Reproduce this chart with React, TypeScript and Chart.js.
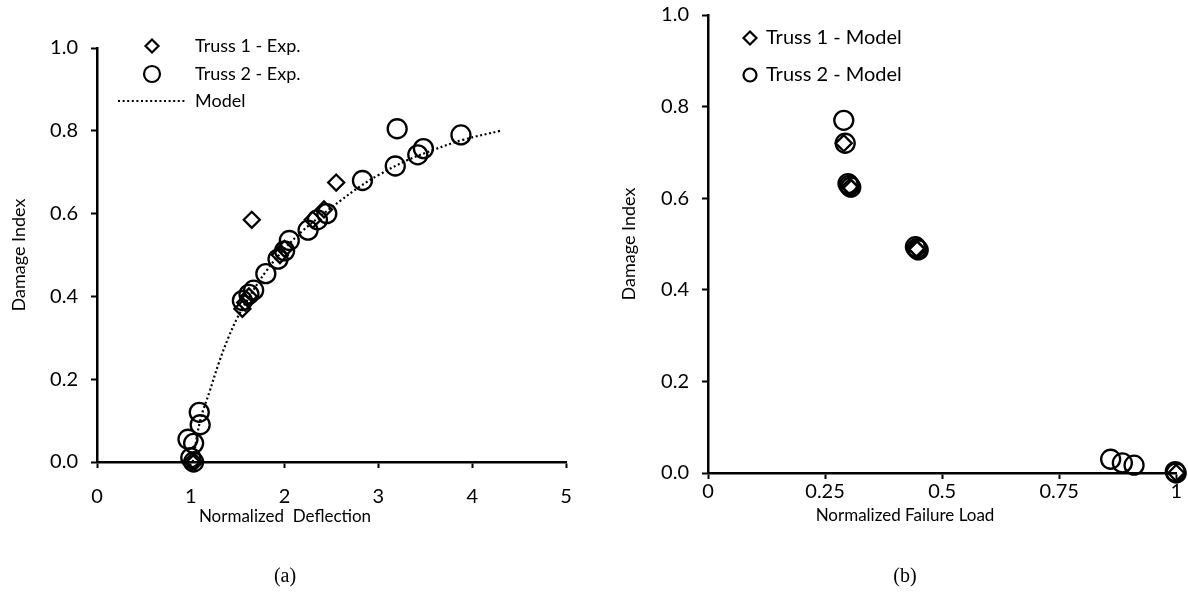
import { useEffect, useRef } from 'react';
import { Chart, registerables } from 'chart.js';

Chart.register(...registerables);

const FONT = 'Lato, "Noto Sans", sans-serif';
const INK = '#000';

// ---- (a) damage index vs. normalized deflection ----
const deflectionTicks = [0, 1, 2, 3, 4, 5];
const damageTicks = [0, 0.2, 0.4, 0.6, 0.8, 1.0];
const damageTickLabels = ['0.0', '0.2', '0.4', '0.6', '0.8', '1.0'];

const truss1ExpDeflection = [1.01, 1.04, 1.55, 1.58, 1.62, 1.65, 1.95, 2.0, 2.3, 2.42, 2.55];
const truss1ExpDamage = [0.0, 0.0, 0.37, 0.385, 0.4, 0.585, 0.5, 0.515, 0.585, 0.61, 0.675];

const truss2ExpDeflection = [0.97, 1.03, 1.0, 1.03, 1.09, 1.1, 1.55, 1.62, 1.67, 1.8, 1.93, 2.0, 2.05, 2.25, 2.35, 2.45, 2.83, 3.18, 3.2, 3.42, 3.48, 3.88];
const truss2ExpDamage = [0.055, 0.045, 0.01, 0.0, 0.12, 0.09, 0.39, 0.405, 0.415, 0.455, 0.49, 0.51, 0.535, 0.56, 0.585, 0.6, 0.68, 0.715, 0.805, 0.742, 0.757, 0.79];

const modelDeflection = [1.02, 1.1, 1.2, 1.3, 1.4, 1.5, 1.6, 1.8, 2.0, 2.2, 2.4, 2.6, 2.8, 3.0, 3.3, 3.6, 3.9, 4.3];
const modelDamage = [0.0, 0.1, 0.17, 0.24, 0.3, 0.35, 0.39, 0.46, 0.515, 0.56, 0.597, 0.632, 0.665, 0.693, 0.728, 0.755, 0.778, 0.8];

// ---- (b) damage index vs. normalized failure load ----
const loadTicks = [0, 0.25, 0.5, 0.75, 1];

const truss1ModelLoad = [0.29, 0.303, 0.306, 0.445, 0.447, 1.0];
const truss1ModelDamage = [0.72, 0.625, 0.622, 0.49, 0.488, 0.0];

const truss2ModelLoad = [0.29, 0.293, 0.299, 0.302, 0.305, 0.443, 0.446, 0.449, 0.86, 0.885, 0.91, 0.998, 1.0];
const truss2ModelDamage = [0.77, 0.72, 0.632, 0.628, 0.624, 0.494, 0.49, 0.487, 0.03, 0.022, 0.017, 0.003, 0.0];

const zip = (xs: number[], ys: number[]) => xs.map((x, i) => ({ x, y: ys[i] }));

// Legend rows and x-axis caption painted straight onto the canvas
const panelDecor = {
  id: 'panelDecor',
  afterDraw(chart: any, _args: any, opts: any) {
    const { ctx } = chart;
    ctx.save();
    ctx.fillStyle = INK;
    ctx.strokeStyle = '#000';
    ctx.textBaseline = 'middle';
    ctx.font = `${opts.fontSize}px ${FONT}`;
    opts.rows.forEach((row: any) => {
      const ds = chart.data.datasets[row.dataset];
      ctx.lineWidth = row.lineWidth ?? 2.2;
      if (row.kind === 'line') {
        ctx.setLineDash(ds.borderDash || []);
        ctx.beginPath();
        ctx.moveTo(row.x0, row.y);
        ctx.lineTo(row.x1, row.y);
        ctx.stroke();
        ctx.setLineDash([]);
      } else if (row.kind === 'diamond') {
        ctx.beginPath();
        ctx.moveTo(row.x - row.r, row.y);
        ctx.lineTo(row.x, row.y - row.r);
        ctx.lineTo(row.x + row.r, row.y);
        ctx.lineTo(row.x, row.y + row.r);
        ctx.closePath();
        ctx.stroke();
      } else {
        ctx.beginPath();
        ctx.arc(row.x, row.y, row.r, 0, Math.PI * 2);
        ctx.stroke();
      }
      ctx.textAlign = 'left';
      ctx.fillText(ds.label, opts.textX, row.y);
    });
    ctx.font = `${opts.titleSize}px ${FONT}`;
    ctx.textAlign = 'center';
    ctx.fillText(opts.xTitle, opts.xTitleX, opts.xTitleY);
    ctx.restore();
  },
};

type Panel = {
  left: number;
  datasets: any[];
  xMin: number;
  xMax: number;
  xTicks: number[];
  xLabels: string[];
  xLabelPad: number;
  padTop: number;
  padRight: number;
  yAxisWidth: number;
  xAxisHeight: number;
  yTitlePad: number;
  decor: any;
};

function buildConfig(p: Panel): any {
  const tickFont = { family: FONT, size: 20 };
  const axisGrid = {
    display: true,
    drawOnChartArea: false,
    drawTicks: true,
    tickLength: 6,
    tickWidth: 2,
    tickColor: '#000',
  };
  return {
    type: 'scatter',
    data: { datasets: p.datasets },
    plugins: [panelDecor],
    options: {
      responsive: false,
      animation: false,
      events: [],
      layout: { padding: { top: p.padTop, right: p.padRight, left: 0, bottom: 0 } },
      plugins: {
        legend: { display: false },
        tooltip: { enabled: false },
        panelDecor: p.decor,
      },
      scales: {
        x: {
          type: 'linear',
          min: p.xMin,
          max: p.xMax,
          afterFit: (s: any) => { s.height = p.xAxisHeight; },
          afterBuildTicks: (s: any) => { s.ticks = p.xTicks.map((value) => ({ value })); },
          border: { display: true, color: '#000', width: 2.5 },
          grid: axisGrid,
          ticks: {
            padding: p.xLabelPad,
            color: INK,
            font: tickFont,
            maxRotation: 0,
            callback: (_v: any, i: number) => p.xLabels[i],
          },
        },
        y: {
          type: 'linear',
          min: 0,
          max: 1,
          afterFit: (s: any) => {
            s.width = p.yAxisWidth;
            s.paddingTop = 0;
          },
          afterBuildTicks: (s: any) => { s.ticks = damageTicks.map((value) => ({ value })); },
          border: { display: true, color: '#000', width: 2.5 },
          grid: axisGrid,
          ticks: {
            padding: 13,
            color: INK,
            font: tickFont,
            callback: (_v: any, i: number) => damageTickLabels[i],
          },
          title: {
            display: true,
            text: 'Damage Index',
            color: INK,
            font: { family: FONT, size: 18 },
            padding: { top: p.yTitlePad, bottom: 0 },
          },
        },
      },
    },
  };
}

const ring = { pointStyle: 'circle', pointRadius: 9.5, pointBorderWidth: 2.3, pointBorderColor: '#000', pointBackgroundColor: 'rgba(0,0,0,0)', showLine: false, clip: false };
const diamond = { pointStyle: 'rectRot', pointRadius: 8, pointBorderWidth: 2.3, pointBorderColor: '#000', pointBackgroundColor: 'rgba(0,0,0,0)', showLine: false, clip: false };

const panelA: Panel = {
  left: 0,
  datasets: [
    { label: 'Truss 1 - Exp.', data: zip(truss1ExpDeflection, truss1ExpDamage), ...diamond },
    { label: 'Truss 2 - Exp.', data: zip(truss2ExpDeflection, truss2ExpDamage), ...ring },
    {
      label: 'Model',
      data: zip(modelDeflection, modelDamage),
      showLine: true,
      tension: 0.4,
      borderColor: '#000',
      borderWidth: 2.2,
      borderDash: [2, 2.6],
      pointRadius: 0,
    },
  ],
  xMin: 0,
  xMax: 5,
  xTicks: deflectionTicks,
  xLabels: deflectionTicks.map(String),
  xLabelPad: 17,
  padTop: 48,
  padRight: 28,
  yAxisWidth: 97,
  xAxisHeight: 147,
  yTitlePad: 8,
  decor: {
    fontSize: 18,
    titleSize: 17,
    textX: 195,
    rows: [
      { dataset: 0, kind: 'diamond', x: 152, y: 46, r: 6.5 },
      { dataset: 1, kind: 'circle', x: 152, y: 74, r: 8 },
      { dataset: 2, kind: 'line', x0: 118, x1: 187, y: 101, lineWidth: 2.2 },
    ],
    xTitle: 'Normalized  Deflection',
    xTitleX: 285,
    xTitleY: 517,
  },
};

const panelB: Panel = {
  left: 594,
  datasets: [
    { label: 'Truss 1 - Model', data: zip(truss1ModelLoad, truss1ModelDamage), ...diamond },
    { label: 'Truss 2 - Model', data: zip(truss2ModelLoad, truss2ModelDamage), ...ring },
  ],
  xMin: 0,
  xMax: 1,
  xTicks: loadTicks,
  xLabels: loadTicks.map(String),
  xLabelPad: 1,
  padTop: 15,
  padRight: 8,
  yAxisWidth: 114,
  xAxisHeight: 136,
  yTitlePad: 24,
  decor: {
    fontSize: 20,
    titleSize: 17,
    textX: 766 - 594,
    rows: [
      { dataset: 0, kind: 'diamond', x: 750 - 594, y: 38, r: 6.5 },
      { dataset: 1, kind: 'circle', x: 750 - 594, y: 75, r: 6.5 },
    ],
    xTitle: 'Normalized Failure Load',
    xTitleX: 905 - 594,
    xTitleY: 516,
  },
};

function ChartPanel({ panel }: { panel: Panel }) {
  const ref = useRef<HTMLCanvasElement>(null);
  useEffect(() => {
    const chart = new Chart(ref.current as HTMLCanvasElement, buildConfig(panel));
    return () => chart.destroy();
  }, [panel]);
  return (
    <canvas
      ref={ref}
      width={594}
      height={609}
      style={{ position: 'absolute', left: panel.left, top: 0, width: 594, height: 609 }}
    />
  );
}

const captionStyle = (cx: number): React.CSSProperties => ({
  position: 'absolute',
  left: cx - 40,
  width: 80,
  top: 563,
  textAlign: 'center',
  fontFamily: '"Liberation Serif", "Times New Roman", serif',
  fontSize: 20,
  color: '#000',
  lineHeight: '24px',
});

export default function App() {
  return (
    <div style={{ position: 'fixed', left: 0, top: 0, width: 1188, height: 609, background: '#fff', overflow: 'hidden' }}>
      <ChartPanel panel={panelA} />
      <ChartPanel panel={panelB} />
      <div style={captionStyle(285)}>(a)</div>
      <div style={captionStyle(905)}>(b)</div>
    </div>
  );
}
